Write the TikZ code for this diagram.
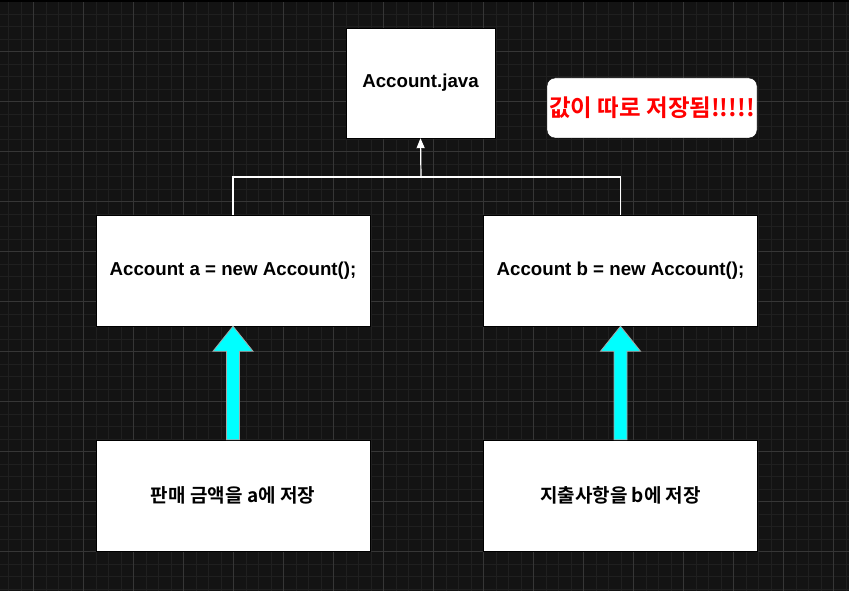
\documentclass[tikz,border=0pt]{standalone}
\usepackage{fontspec}
\setmainfont{Liberation Sans}
\newfontfamily\kr{Noto Sans CJK KR}[BoldFont={* Bold}]
\usetikzlibrary{arrows.meta,calc}
\definecolor{bg}{HTML}{131313}
\definecolor{minorg}{HTML}{1F1F1F}
\definecolor{majorg}{HTML}{363636}
\definecolor{cyanfill}{HTML}{00FFFF}
\definecolor{redtxt}{HTML}{FF0000}
\begin{document}
\begin{tikzpicture}[x=1pt,y=-1pt,
  box/.style={draw=black,fill=white,minimum width=274pt,minimum height=111pt,inner sep=0pt,font=\bfseries\fontsize{18.7}{22}\selectfont},
  krbox/.style={box,font=\kr\bfseries\fontsize{19}{22}\selectfont},
  link/.style={draw=white,line width=1.2pt},
  bigarrow/.style={fill=cyanfill,draw=gray!70,line width=0.8pt}]
\fill[bg] (0,0) rectangle (849,591);
\useasboundingbox (0,0) rectangle (849,591);
\foreach \x in {8.5,21,...,849} \draw[minorg,line width=0.8pt] (\x,0) -- (\x,591);
\foreach \y in {1.7,14.2,...,591} \draw[minorg,line width=0.8pt] (0,\y) -- (849,\y);
\foreach \x in {33,83,...,849} \draw[majorg,line width=0.8pt] (\x,0) -- (\x,591);
\foreach \y in {1.7,51.7,...,591} \draw[majorg,line width=0.8pt] (0,\y) -- (849,\y);
\draw[black,line width=1.5pt] (0,1) -- (849,1);

\node[box,minimum width=149pt,minimum height=110pt] (acc) at (420.5,83) {Account.java};
\node[draw=black,fill=white,rounded corners=8pt,minimum width=210pt,minimum height=60pt,inner sep=0pt,
  text=redtxt,font=\kr\bfseries\fontsize{23.5}{26}\selectfont] (note) at (652,108) {값이 따로 저장됨!!!!!};
\node[box] (a) at (233,270.5) {Account a = new Account();};
\node[box] (b) at (620.5,270.5) {Account b = new Account();};
\node[krbox] (sa) at (233,495.5) {판매 금액을 a에 저장};
\node[krbox] (sb) at (620.5,495.5) {지출사항을 b에 저장};

\coordinate (j) at (421,177);
\draw[link] (a.north) |- (j) -| (b.north);
\draw[link,-{Triangle[width=8pt,length=10pt]}] (j) -- (acc.south);

\foreach \s/\t in {sa/a,sb/b}{
  \path (\s.north) coordinate (p0) (\t.south) coordinate (p1);
  \draw[bigarrow] ($(p0)+(-6.5,0)$) -- ($(p1)+(-6.5,25)$) -- ($(p1)+(-20,25)$) -- (p1)
    -- ($(p1)+(20,25)$) -- ($(p1)+(6.5,25)$) -- ($(p0)+(6.5,0)$) -- cycle;
}
\end{tikzpicture}
\end{document}
